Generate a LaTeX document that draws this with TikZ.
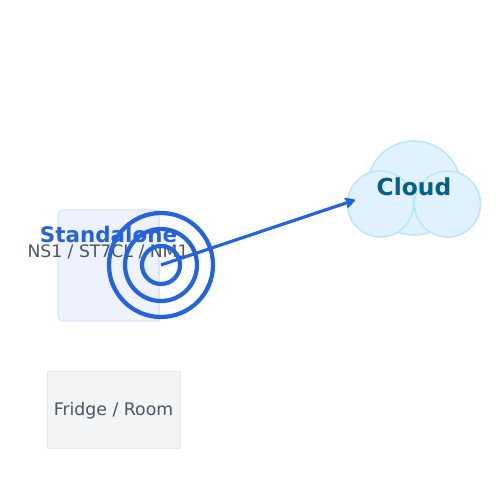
\documentclass[tikz,border=0pt]{standalone}
\usepackage{fontspec}
\setmainfont{DejaVu Sans}
\usetikzlibrary{arrows.meta}
\definecolor{standfill}{HTML}{EEF2FF}
\definecolor{standline}{HTML}{DCE4F8}
\definecolor{ringblue}{HTML}{2563DC}
\definecolor{cloudfill}{HTML}{E0F2FE}
\definecolor{cloudline}{HTML}{BAE6FD}
\definecolor{cloudtext}{HTML}{075E8C}
\definecolor{fridgefill}{HTML}{F3F4F6}
\definecolor{fridgeline}{HTML}{E5E7EB}
\definecolor{labelgray}{HTML}{4B5563}

\begin{document}
\begin{tikzpicture}[x=0.02cm, y=-0.02cm, >={Stealth[length=2.6mm, width=2.8mm, inset=0.9mm, round]},
	ring/.style={circle, draw=ringblue, line width=2.4pt, inner sep=0pt},
	puff/.style={circle, draw=cloudline, fill=cloudfill, line width=0.9pt, inner sep=0pt}]
	\useasboundingbox (0,0) rectangle (500,500);
	\draw[standline, fill=standfill, line width=0.6pt, rounded corners=3pt] (159,210) -- (58,210) -- (58,321) -- (159,321);
	\draw[standline, line width=0.6pt] (159,210) -- (159,321);
	\node[draw=fridgeline, fill=fridgefill, line width=0.5pt, minimum width=133*0.02cm, minimum height=77*0.02cm, inner sep=0pt] (fridge) at (114,409.5) {};
	\node[text=labelgray, font=\fontsize{9.85pt}{11pt}\selectfont] (fridgelabel) at (113.5,410.5) {Fridge / Room};
	\node[puff, minimum size=94*0.02cm] (cloudtop) at (414,188) {};
	\node[puff, minimum size=66*0.02cm] (cloudleft) at (380.5,204) {};
	\node[puff, minimum size=66*0.02cm] (cloudright) at (447.5,204) {};
	\node[text=cloudtext, font=\fontsize{13.3pt}{15pt}\selectfont\bfseries] (cloudlabel) at (414,187) {Cloud};
	\node[text=ringblue, font=\fontsize{12.2pt}{14pt}\selectfont\bfseries] (standlabel) at (108.5,235) {Standalone};
	\node[text=labelgray, font=\fontsize{9.8pt}{11pt}\selectfont] (modellabel) at (108,251.5) {NS1 / ST7CL / NM1};
	\node[ring, minimum size=104*0.02cm] (ringouter) at (161,265) {};
	\node[ring, minimum size=72*0.02cm] (ringmiddle) at (161,265) {};
	\node[ring, minimum size=38*0.02cm] (ringinner) at (161,265) {};
	\coordinate (cloudport) at (355,200);
	\draw[->, ringblue, line width=1.8pt] (ringinner.center) -- (cloudport);
\end{tikzpicture}
\end{document}
